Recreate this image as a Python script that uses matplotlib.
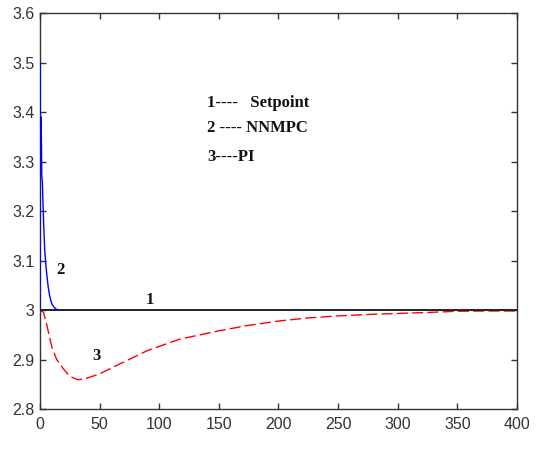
import matplotlib.pyplot as plt

# setpoint
sp_t = [0, 400]
sp_y = [3.0, 3.0]

# NNMPC response (fast, from 3.5 back to 3.0)
nn_t = [0, 0, 0.5, 1, 1.5, 2, 3, 4, 5, 6, 7, 8, 9, 10, 12, 14, 16]
nn_y = [3.0, 3.5, 3.34, 3.39, 3.27, 3.26, 3.18, 3.12, 3.09, 3.065, 3.045, 3.03, 3.02, 3.012, 3.005, 3.001, 3.0]

# PI response (slow undershoot)
pi_t = [0, 3, 6, 10, 14, 20, 25, 32, 39, 50, 60, 73, 90, 117, 150, 175, 201, 225, 249, 275, 299, 325, 350, 375, 400]
pi_y = [3.0, 2.995, 2.967, 2.925, 2.90, 2.88, 2.866, 2.859, 2.862, 2.871, 2.883, 2.898, 2.918, 2.941, 2.958, 2.969, 2.978, 2.984, 2.988, 2.991, 2.993, 2.995, 2.9975, 2.998, 2.998]

plt.rcParams['font.family'] = ['Liberation Sans', 'DejaVu Sans']

fig = plt.figure(figsize=(5.38, 4.5), dpi=100)
ax = fig.add_axes([0.0743, 0.0911, 0.8867, 0.8800])

ax.plot(sp_t, sp_y, color="#222222", lw=1.4, zorder=3)
ax.plot(nn_t, nn_y, color="blue", lw=1.0, zorder=4)
ax.plot(pi_t, pi_y, color="red", lw=1.0, dashes=(8, 3), zorder=2)

ax.set_xlim(0, 400)
ax.set_ylim(2.8, 3.6)
ax.set_xticks(range(0, 401, 50))
ax.set_yticks([2.8, 2.9, 3.0, 3.1, 3.2, 3.3, 3.4, 3.5, 3.6])
ax.set_yticklabels(["2.8", "2.9", "3", "3.1", "3.2", "3.3", "3.4", "3.5", "3.6"])
ax.tick_params(direction="in", top=True, right=True, length=4, width=1,
               labelsize=11.5, labelcolor="#333333", color="#333333")
ax.tick_params(axis="x", pad=6)
ax.tick_params(axis="y", pad=4)
for s in ax.spines.values():
    s.set_color("#333333")
    s.set_linewidth(1.0)

tfont = dict(family=["Liberation Serif"], fontweight="bold", fontsize=12, color="#111111")
ax.text(89, 3.013, "1", **tfont)
ax.text(14, 3.072, "2", **tfont)
ax.text(44, 2.898, "3", **tfont)

lfont = dict(family=["Liberation Serif"], fontweight="bold", fontsize=12, color="#111111")
ax.text(140, 3.418, "1----   Setpoint", va="center", **lfont)
ax.text(140, 3.368, "2 ---- NNMPC", va="center", **lfont)
ax.text(140, 3.309, "3----PI", va="center", **lfont)

fig.savefig("out.png", dpi=100)
